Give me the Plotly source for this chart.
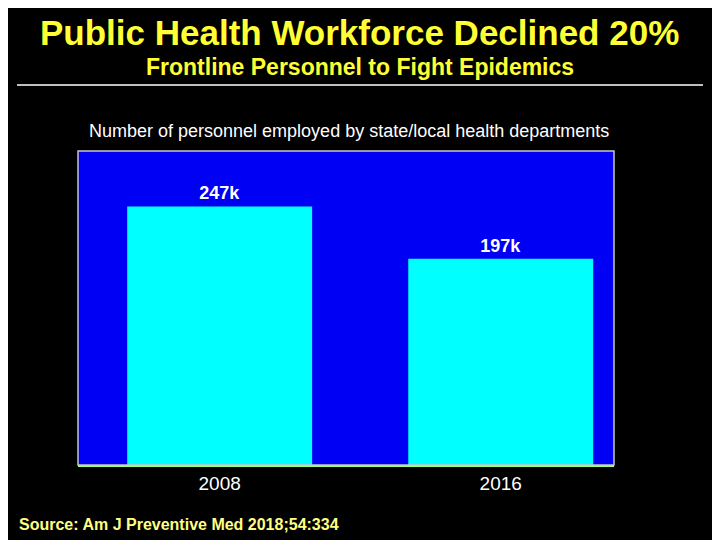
import plotly.graph_objects as go

years = ["2008", "2016"]
personnel_k = [247, 197]
bar_labels = ["<b>247k</b>", "<b>197k</b>"]

fig = go.Figure()

fig.add_trace(go.Bar(x=years, y=personnel_k, text=bar_labels, textposition="outside",
                     marker=dict(color="#00FFFF", line=dict(width=0)), width=0.658,
                     textfont=dict(color="white", size=18, family="Liberation Sans"),
                     cliponaxis=False))

# page has an 8px body margin, so margins are shifted up/left by 8
fig.update_layout(
    width=720, height=540,
    paper_bgcolor="black", plot_bgcolor="#0000F5",
    margin=dict(l=70, r=114, t=143, b=83),
    showlegend=False,
    font=dict(family="Liberation Sans, Arial", color="white"),
    xaxis=dict(type="category", range=[-0.504, 1.403], showgrid=False,
               tickfont=dict(size=19, color="white"), ticks="", ticklen=0,
               showline=True, linecolor="#A0FF80", linewidth=2),
    yaxis=dict(range=[0, 300], showgrid=False, showticklabels=False, zeroline=False),
)

# plot border
fig.add_shape(type="rect", xref="paper", yref="paper", x0=0, y0=0, x1=1, y1=1,
              line=dict(color="#C8C8C8", width=1.5), layer="above")

# rule under the titles
fig.add_shape(type="line", xref="paper", yref="paper", x0=-61/536, x1=625/536,
              y0=1 + 66/314, y1=1 + 66/314, line=dict(color="white", width=1.5))

fig.add_annotation(text="<b>Public Health Workforce Declined 20%</b>", xref="paper", yref="paper",
                   x=281/536, y=1 + 118/314, showarrow=False, xanchor="center", yanchor="middle",
                   font=dict(size=35, color="#FFFF33", family="Liberation Sans"))
fig.add_annotation(text="<b>Frontline Personnel to Fight Epidemics</b>", xref="paper", yref="paper",
                   x=282/536, y=1 + 84/314, showarrow=False, xanchor="center", yanchor="middle",
                   font=dict(size=23, color="#FFFF33", family="Liberation Sans"))
fig.add_annotation(text="Number of personnel employed by state/local health departments",
                   xref="paper", yref="paper", x=271/536, y=1 + 20/314, showarrow=False,
                   xanchor="center", yanchor="middle",
                   font=dict(size=18, color="white", family="Liberation Sans"))
fig.add_annotation(text="<b>Source: Am J Preventive Med 2018;54:334</b>", xref="paper", yref="paper",
                   x=-61/536, y=-59/314, showarrow=False, xanchor="left", yanchor="middle",
                   font=dict(size=16, color="#FFFF80", family="Liberation Sans"))

fig.write_html("out.html")
